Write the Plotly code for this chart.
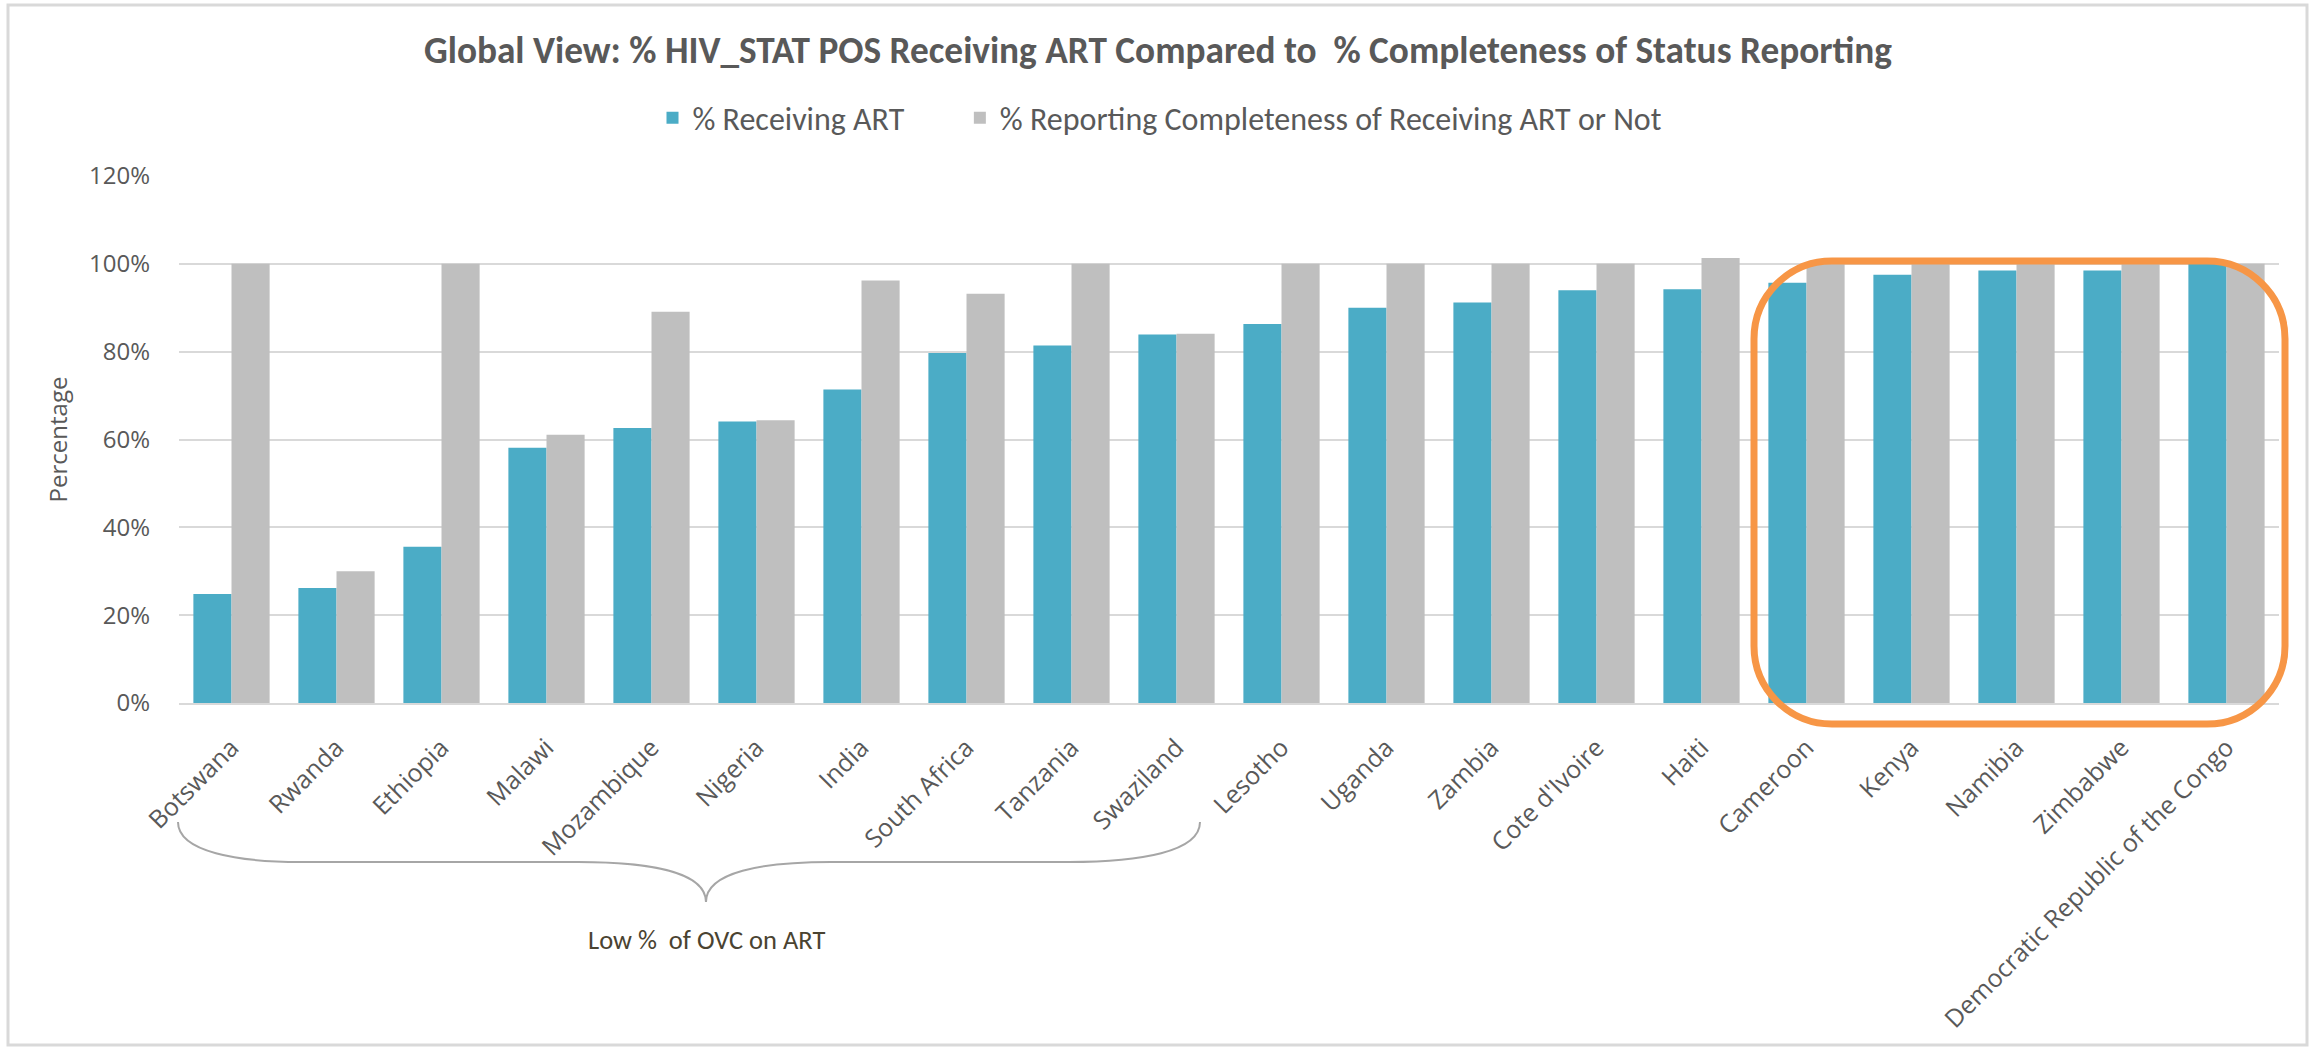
import plotly.graph_objects as go

countries = ["Botswana", "Rwanda", "Ethiopia", "Malawi", "Mozambique", "Nigeria", "India",
             "South Africa", "Tanzania", "Swaziland", "Lesotho", "Uganda", "Zambia",
             "Cote d'Ivoire", "Haiti", "Cameroon", "Kenya", "Namibia", "Zimbabwe",
             "Democratic Republic of the Congo"]
receiving_art = [0.248, 0.262, 0.356, 0.581, 0.626, 0.641, 0.714, 0.797, 0.814, 0.839,
                 0.863, 0.900, 0.912, 0.940, 0.942, 0.957, 0.975, 0.985, 0.985, 1.000]
reporting_completeness = [1.000, 0.300, 1.000, 0.611, 0.891, 0.644, 0.962, 0.932, 1.000, 0.841,
                          1.000, 1.000, 1.000, 1.000, 1.013, 1.000, 1.000, 1.000, 1.000, 1.000]
y_ticks = [0, 0.2, 0.4, 0.6, 0.8, 1.0, 1.2]

W, H = 2320, 1049
L, R, T, B = 179, 41, 176, 346
PW, PH = W - L - R, H - T - B

def px(x):
    return (x - L) / PW

def py(y):
    return (H - B - y) / PH

BLUE = "#4BACC6"
GRAY = "#BFBFBF"
TXT = "#595959"
TICKFONT = "Open Sans"
HEADFONT = "Calibri, Carlito, Lato"
NB = "\u00a0"

fig = go.Figure()
fig.add_trace(go.Bar(x=countries, y=receiving_art, name="% Receiving ART" + NB * 7,
                     marker=dict(color=BLUE, line=dict(width=0))))
fig.add_trace(go.Bar(x=countries, y=reporting_completeness,
                     name="% Reporting Completeness of Receiving ART or Not",
                     marker=dict(color=GRAY, line=dict(width=0))))

shapes = []
# chart border
shapes.append(dict(type="rect", xref="paper", yref="paper",
                   x0=px(8), x1=px(2307), y0=py(5), y1=py(1045),
                   line=dict(color="#D9D9D9", width=3), layer="below"))

def P(x, y):
    return f"{px(x):.5f},{py(y):.5f}"

# orange rounded box
bx0, bx1, by0, by1, rr = 1754, 2285, 261, 724, 78
k = 0.5523 * rr
path = (f"M {P(bx0 + rr, by0)} L {P(bx1 - rr, by0)} "
        f"C {P(bx1 - rr + k, by0)} {P(bx1, by0 + rr - k)} {P(bx1, by0 + rr)} "
        f"L {P(bx1, by1 - rr)} "
        f"C {P(bx1, by1 - rr + k)} {P(bx1 - rr + k, by1)} {P(bx1 - rr, by1)} "
        f"L {P(bx0 + rr, by1)} "
        f"C {P(bx0 + rr - k, by1)} {P(bx0, by1 - rr + k)} {P(bx0, by1 - rr)} "
        f"L {P(bx0, by0 + rr)} "
        f"C {P(bx0, by0 + rr - k)} {P(bx0 + rr - k, by0)} {P(bx0 + rr, by0)} Z")
shapes.append(dict(type="path", xref="paper", yref="paper", path=path,
                   line=dict(color="#F79646", width=7), layer="above"))

# brace
bl, br, btop, bmid, btip, cx = 178, 1200, 822, 862, 902, 706
brace = (f"M {P(bl, btop)} C {P(bl, bmid - 10)} {P(bl + 60, bmid)} {P(301, bmid)} "
         f"L {P(578, bmid)} C {P(650, bmid)} {P(cx, bmid + 10)} {P(cx, btip)} "
         f"C {P(cx, bmid + 10)} {P(762, bmid)} {P(831, bmid)} "
         f"L {P(1069, bmid)} C {P(br - 60, bmid)} {P(br, bmid - 10)} {P(br, btop)}")
shapes.append(dict(type="path", xref="paper", yref="paper", path=brace,
                   line=dict(color="#A6A6A6", width=2)))

fig.update_layout(
    width=W, height=H,
    margin=dict(l=L, r=R, t=T, b=B, pad=0),
    paper_bgcolor="white", plot_bgcolor="white",
    barmode="group", bargap=0.274, bargroupgap=0,
    title=dict(text="<b>Global View: % HIV_STAT POS Receiving ART Compared to \u00a0% Completeness of Status Reporting</b>",
               x=1158 / W, xref="container", xanchor="center", y=1 - 50 / H, yref="container",
               yanchor="middle",
               font=dict(family=HEADFONT, size=37.3, color=TXT)),
    legend=dict(orientation="h", x=px(1160), xanchor="center", y=py(118), yanchor="middle",
                font=dict(family=HEADFONT, size=32, color=TXT), itemwidth=30,
                bgcolor="rgba(0,0,0,0)"),
    xaxis=dict(tickangle=-45, tickfont=dict(family=TICKFONT, size=25, color=TXT),
               showgrid=False, showline=True, linecolor="#D9D9D9", linewidth=2,
               ticks="", ticklabelstandoff=18),
    yaxis=dict(range=[0, 1.2], tickvals=y_ticks, tickformat=".0%",
               tickfont=dict(family=TICKFONT, size=24, color=TXT),
               showgrid=True, gridcolor="#D9D9D9", gridwidth=2,
               zeroline=False, showline=False, ticks="", ticklabelstandoff=28,
               title=dict(text="Percentage", font=dict(family=TICKFONT, size=24, color=TXT),
                          standoff=14)),
    shapes=shapes,
    annotations=[dict(text="Low %\u00a0 of OVC on ART", xref="paper", yref="paper",
                      x=px(706), y=py(940), xanchor="center", yanchor="middle",
                      showarrow=False,
                      font=dict(family=HEADFONT, size=26.5, color="#4A4331"))],
)

fig.write_html("out.html", config={"displayModeBar": False},
               post_script="document.body.style.margin='0';")
